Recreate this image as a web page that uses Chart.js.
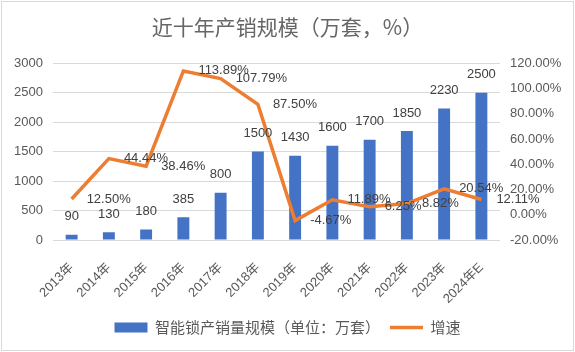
<!DOCTYPE html>
<html>
<head>
<meta charset="utf-8">
<script src="https://cdn.jsdelivr.net/npm/chart.js@4.4.0/dist/chart.umd.min.js"></script>
<style>
  html, body { margin: 0; padding: 0; background: #fff; }
  #wrap { width: 575px; height: 352px; }
</style>
</head>
<body>
<div id="wrap"><canvas id="chart" width="575" height="352"></canvas></div>
<script>
// 年份
const years = ["2013年", "2014年", "2015年", "2016年", "2017年", "2018年",
  "2019年", "2020年", "2021年", "2022年", "2023年", "2024年E"];
// 产销量（万套）
const volume = [90, 130, 180, 385, 800, 1500, 1430, 1600, 1700, 1850, 2230, 2500];
// 增速（%）
const growth = [12.50, 44.44, 38.46, 113.89, 107.79, 87.50, -4.67, 11.89, 6.25, 8.82, 20.54, 12.11];

const fontEn = "'Liberation Sans', 'Noto Sans CJK SC', sans-serif";
const fontCn = "'Noto Sans CJK SC', 'Liberation Sans', sans-serif";

// 画外框
const borderPlugin = {
  id: "frame",
  beforeDraw(chart) {
    const ctx = chart.ctx;
    ctx.save();
    ctx.fillStyle = "#fff";
    ctx.fillRect(0, 0, chart.width, chart.height);
    ctx.strokeStyle = "#D9D9D9";
    ctx.lineWidth = 1;
    ctx.strokeRect(1.5, 1.5, chart.width - 3, chart.height - 3);
    ctx.restore();
  }
};

// 数据标签
const labelPlugin = {
  id: "valueLabels",
  afterDatasetsDraw(chart) {
    const ctx = chart.ctx;
    ctx.save();
    ctx.font = "13px " + fontEn;
    ctx.fillStyle = "#404040";

    const barMeta = chart.getDatasetMeta(0);
    ctx.textAlign = "center";
    ctx.textBaseline = "middle";
    barMeta.data.forEach((bar, i) => {
      ctx.fillText(String(volume[i]), bar.x, bar.y - 18);
    });

    const lineMeta = chart.getDatasetMeta(1);
    ctx.textAlign = "left";
    lineMeta.data.forEach((pt, i) => {
      ctx.fillText(growth[i].toFixed(2) + "%", pt.x + 15, pt.y);
    });
    ctx.restore();
  }
};

const ctx = document.getElementById("chart").getContext("2d");
new Chart(ctx, {
  data: {
    labels: years,
    datasets: [
      {
        type: "bar",
        label: "智能锁产销量规模（单位：万套）",
        data: volume,
        backgroundColor: "#4472C4",
        borderWidth: 0,
        yAxisID: "y",
        order: 1,
        categoryPercentage: 0.8,
        barPercentage: 0.4
      },
      {
        type: "line",
        label: "增速",
        data: growth,
        borderColor: "#ED7D31",
        backgroundColor: "#ED7D31",
        borderWidth: 3.5,
        pointRadius: 0,
        tension: 0,
        yAxisID: "y1",
        order: 0
      }
    ]
  },
  options: {
    responsive: false,
    animation: false,
    layout: { padding: { top: 0, left: 0, right: 0, bottom: 7 } },
    plugins: {
      title: {
        display: true,
        text: "近十年产销规模（万套，%）",
        color: "#666666",
        font: { family: fontCn, size: 21, weight: "normal" },
        padding: { top: 14, bottom: 24 }
      },
      legend: {
        position: "bottom",
        labels: {
          usePointStyle: true,
          pointStyleWidth: 33,
          boxHeight: 10,
          color: "#595959",
          font: { family: fontCn, size: 15 },
          padding: 10,
          sort: (a, b) => a.datasetIndex - b.datasetIndex,
          generateLabels(chart) {
            const items = Chart.defaults.plugins.legend.labels.generateLabels(chart);
            items.forEach(it => {
              if (it.datasetIndex === 1) {
                it.pointStyle = "line";
                it.lineWidth = 3.5;
              } else {
                it.pointStyle = "rect";
                it.lineWidth = 0;
              }
            });
            return items;
          }
        }
      },
      tooltip: { enabled: false }
    },
    scales: {
      x: {
        grid: { display: false },
        border: { display: false },
        ticks: {
          autoSkip: false,
          minRotation: 45,
          maxRotation: 45,
          padding: 12,
          color: "#595959",
          font: { family: fontEn, size: 13 }
        },
        afterFit(scale) { scale.height = 70; }
      },
      y: {
        position: "left",
        min: 0,
        max: 3000,
        ticks: {
          stepSize: 500,
          padding: 10,
          color: "#595959",
          font: { family: fontEn, size: 13 },
          callback: v => String(v)
        },
        grid: { color: "#D9D9D9", drawTicks: false },
        border: { display: false },
        afterFit(scale) { scale.width = 53; }
      },
      y1: {
        position: "right",
        min: -20,
        max: 120,
        ticks: {
          stepSize: 20,
          padding: 10,
          color: "#595959",
          font: { family: fontEn, size: 13 },
          callback: v => v.toFixed(2) + "%"
        },
        grid: { display: false, drawTicks: false },
        border: { display: false },
        afterFit(scale) { scale.width = 75; }
      }
    }
  },
  plugins: [borderPlugin, labelPlugin]
});
</script>
</body>
</html>
